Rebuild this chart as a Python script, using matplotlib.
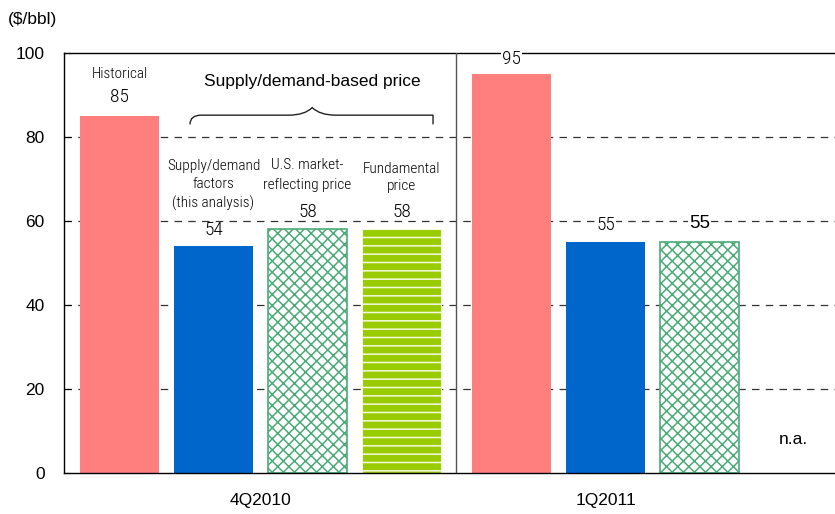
import numpy as np
import matplotlib
matplotlib.use('Agg')
import matplotlib.pyplot as plt
from matplotlib import font_manager
from matplotlib.path import Path
from matplotlib.patches import PathPatch

plt.rcParams['font.family'] = ['Liberation Sans', 'DejaVu Sans']
plt.rcParams['hatch.linewidth'] = 1.1

# data
periods = ['4Q2010', '1Q2011']
series = ['Historical', 'Supply/demand\nfactors\n(this analysis)',
          'U.S. market-\nreflecting price', 'Fundamental\nprice']
vals_4q2010 = [85, 54, 58, 58]
vals_1q2011 = [95, 55, 55]          # fundamental price: n.a.
bracket_label = 'Supply/demand-based price'
y_ticks = [0, 20, 40, 60, 80, 100]

pink = '#FF7F7F'
blue = '#0066CC'
green = '#4BAA78'
lime = '#99CC00'


def pick_narrow():
    # look for a condensed sans font, else fall back
    found = {}
    for f in font_manager.fontManager.ttflist:
        nm = f.name
        if 'Narrow' in nm or 'Condensed' in nm or f.stretch in ('condensed', 'semi-condensed'):
            found[nm] = f
    for pref in ['Liberation Sans Narrow', 'Arial Narrow', 'Roboto Condensed',
                 'Open Sans Condensed', 'Noto Sans Condensed', 'DejaVu Sans Condensed']:
        if pref in found:
            return dict(family=[pref, 'Liberation Sans']), False
    for nm, f in found.items():
        if 'Sans' in nm or 'Roboto' in nm:
            if f.stretch in ('condensed', 'semi-condensed') and nm in ('DejaVu Sans', 'Noto Sans', 'Open Sans'):
                return dict(family=[nm], stretch='condensed'), False
            return dict(family=[nm, 'Liberation Sans']), False
    return dict(family=['Liberation Sans']), True


narrow, fallback = pick_narrow()
narrow['weight'] = 300
small = 9.8 if fallback else 11
num = 12.5 if fallback else 14


def draw_bar(ax, x, v, kind):
    w = 0.84
    if kind == 0:
        ax.bar(x, v, w, color=pink, zorder=2)
    elif kind == 1:
        ax.bar(x, v, w, color=blue, zorder=2)
    elif kind == 2:
        ax.bar(x, v, w, facecolor='white', edgecolor=green, hatch='xxx', lw=1.2, zorder=2)
    else:
        ax.bar(x, v, w, facecolor=lime, edgecolor='#F4FAE0', hatch='--', lw=0.8, zorder=2)


def main():
    fig = plt.figure(figsize=(8.35, 5.14), dpi=100)
    ax = fig.add_axes([64/835, 41/514, 771/835, 420/514])

    x1 = [0, 1, 2, 3]
    x2 = [4.17, 5.17, 6.17]
    for i, (x, v) in enumerate(zip(x1, vals_4q2010)):
        draw_bar(ax, x, v, i)
    for i, (x, v) in enumerate(zip(x2, vals_1q2011)):
        draw_bar(ax, x, v, i)

    ax.set_xlim(-0.59, 7.61)
    ax.set_ylim(0, 100)
    ax.set_yticks(y_ticks)
    ax.tick_params(axis='y', direction='in', length=5, labelsize=12.5, pad=14)
    ax.set_xticks([])
    for y in y_ticks[1:-1]:
        ax.axhline(y, color='#333333', lw=0.9, ls=(0, (6, 5)), zorder=1)
    ax.axvline(3.58, color='#555555', lw=1.0, zorder=3)
    ax.spines['right'].set_visible(False)
    for s in ['left', 'top', 'bottom']:
        ax.spines[s].set_linewidth(1.0)

    ax.text(-0.073, 1.079, '($/bbl)', transform=ax.transAxes, fontsize=12.5,
            ha='left', va='center')

    # labels for 4Q2010
    ax.text(x1[0], 95.0, 'Historical', ha='center', va='center', fontsize=small, **narrow)
    ax.text(x1[0], 89.5, str(vals_4q2010[0]), ha='center', va='center', fontsize=num, **narrow)
    ax.text(x1[1], 68.6, series[1], ha='center', va='center', fontsize=small,
            linespacing=1.4, **narrow)
    ax.text(x1[1], 57.9, str(vals_4q2010[1]), ha='center', va='center', fontsize=num, **narrow)
    ax.text(x1[2], 70.9, series[2], ha='center', va='center', fontsize=small,
            linespacing=1.5, **narrow)
    ax.text(x1[2], 62.1, str(vals_4q2010[2]), ha='center', va='center', fontsize=num, **narrow)
    ax.text(x1[3], 70.3, series[3], ha='center', va='center', fontsize=small,
            linespacing=1.3, **narrow)
    ax.text(x1[3], 62.1, str(vals_4q2010[3]), ha='center', va='center', fontsize=num, **narrow)

    ax.text(2.05, 93.1, bracket_label, ha='center', va='center', fontsize=12.5)

    # curly brace
    xl, xr, xm = 0.75, 3.335, 2.05
    yb, yt, yp = 83.0, 85.2, 87.0
    verts = [(xl, yb), (xl, yt), (xl + 0.12, yt), (xl + 0.25, yt),
             (xm - 0.25, yt), (xm - 0.08, yt), (xm, yp),
             (xm + 0.08, yt), (xm + 0.25, yt),
             (xr - 0.25, yt), (xr - 0.12, yt), (xr, yt), (xr, yb)]
    codes = [Path.MOVETO, Path.CURVE3, Path.CURVE3, Path.LINETO,
             Path.LINETO, Path.CURVE3, Path.CURVE3,
             Path.CURVE3, Path.CURVE3,
             Path.LINETO, Path.CURVE3, Path.CURVE3, Path.LINETO]
    ax.add_patch(PathPatch(Path(verts, codes), fill=False, lw=1.0, color='#222222', zorder=4))

    # labels for 1Q2011
    ax.text(x2[0], 98.6, str(vals_1q2011[0]), ha='center', va='center', fontsize=num,
            zorder=5, bbox=dict(facecolor='white', edgecolor='none', pad=1), **narrow)
    ax.text(x2[1], 59.0, str(vals_1q2011[1]), ha='center', va='center', fontsize=num,
            zorder=5, bbox=dict(facecolor='white', edgecolor='none', pad=1), **narrow)
    ax.text(x2[2], 59.3, str(vals_1q2011[2]), ha='center', va='center', fontsize=13.5,
            zorder=5, bbox=dict(facecolor='white', edgecolor='none', pad=1))
    ax.text(7.17, 7.9, 'n.a.', ha='center', va='center', fontsize=12.5)

    # period labels
    ax.text(1.5, -6.5, periods[0], ha='center', va='center', fontsize=12.5)
    ax.text(5.17, -6.5, periods[1], ha='center', va='center', fontsize=12.5)

    fig.savefig('out.png', dpi=100)
    print('Saved out.png')


if __name__ == '__main__':
    main()
